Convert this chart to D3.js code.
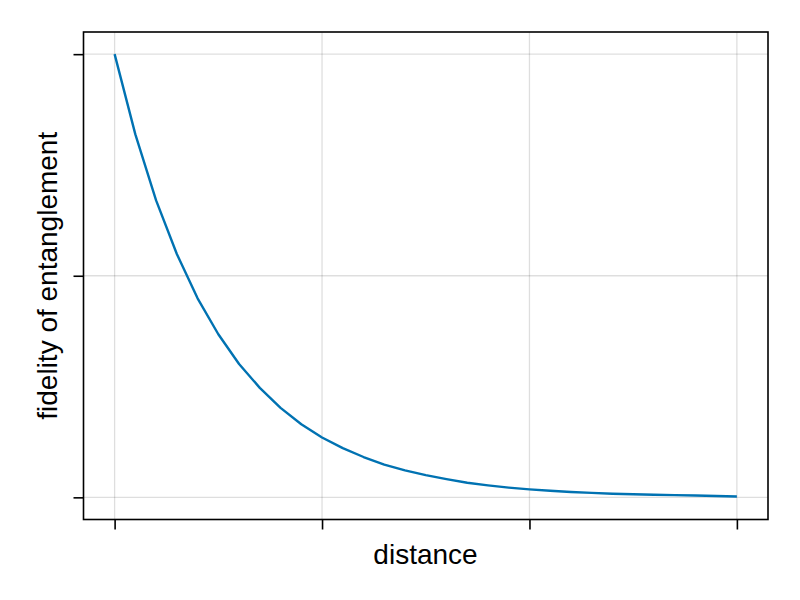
<!DOCTYPE html>
<html>
<head>
<meta charset="utf-8">
<script src="https://cdn.jsdelivr.net/npm/d3@7"></script>
<style>
  html, body { margin: 0; padding: 0; background: #fff; }
  svg { display: block; }
</style>
</head>
<body>
<svg id="chart" width="800" height="600"></svg>
<script>
// Data
const distance = [0.0, 0.1, 0.2, 0.3, 0.4, 0.5, 0.6, 0.7, 0.8, 0.9, 1.0,
                  1.1, 1.2, 1.3, 1.4, 1.5, 1.6, 1.7, 1.8, 1.9, 2.0,
                  2.1, 2.2, 2.3, 2.4, 2.5, 2.6, 2.7, 2.8, 2.9, 3.0];
const fidelity = [1.000, 0.819, 0.670, 0.549, 0.449, 0.368, 0.301, 0.247, 0.202, 0.165, 0.135,
                  0.111, 0.091, 0.074, 0.061, 0.050, 0.041, 0.033, 0.027, 0.022, 0.018,
                  0.015, 0.012, 0.010, 0.008, 0.007, 0.006, 0.005, 0.004, 0.003, 0.002];
const xTicks = [0, 1, 2, 3];
const yTicks = [0, 0.5, 1];
const xLabel = "distance";
const yLabel = "fidelity of entanglement";

const svg = d3.select("#chart");
const L = 83.5, R = 768, T = 32, B = 519.5;

const xPad = 0.05 * 3, yPad = 0.05 * 1;
const x = d3.scaleLinear().domain([0 - xPad, 3 + xPad]).range([L, R]);
const y = d3.scaleLinear().domain([0 - yPad, 1 + yPad]).range([B, T]);

// grid
const grid = svg.append("g");
grid.selectAll("line.gx").data(xTicks).join("line")
  .attr("x1", d => x(d)).attr("x2", d => x(d))
  .attr("y1", T).attr("y2", B)
  .attr("stroke", "rgba(0,0,0,0.13)").attr("stroke-width", 1.3);
grid.selectAll("line.gy").data(yTicks).join("line")
  .attr("y1", d => y(d)).attr("y2", d => y(d))
  .attr("x1", L).attr("x2", R)
  .attr("stroke", "rgba(0,0,0,0.13)").attr("stroke-width", 1.3);

// line
const line = d3.line().x((d, i) => x(distance[i])).y(d => y(d));
svg.append("path").datum(fidelity)
  .attr("d", line)
  .attr("fill", "none")
  .attr("stroke", "#0072B2")
  .attr("stroke-width", 2.4)
  .attr("stroke-linejoin", "round");

// frame
svg.append("rect").attr("x", L).attr("y", T).attr("width", R - L).attr("height", B - T)
  .attr("fill", "none").attr("stroke", "#000").attr("stroke-width", 1.6);

// axes (ticks, no labels)
const xAxis = d3.axisBottom(x).tickValues(xTicks).tickSize(10).tickFormat("");
const yAxis = d3.axisLeft(y).tickValues(yTicks).tickSize(10).tickFormat("");
const gx = svg.append("g").attr("transform", `translate(0,${B})`).call(xAxis);
const gy = svg.append("g").attr("transform", `translate(${L},0)`).call(yAxis);
[gx, gy].forEach(g => {
  g.select(".domain").remove();
  g.selectAll(".tick line").attr("stroke", "#000").attr("stroke-width", 1.6);
});

// labels
svg.append("text")
  .attr("x", 425.5).attr("y", 564)
  .attr("text-anchor", "middle")
  .attr("font-family", "'Liberation Sans', Arial, sans-serif")
  .attr("font-size", 28)
  .attr("fill", "#000")
  .text(xLabel);
svg.append("text")
  .attr("transform", `translate(57,${(T + B) / 2}) rotate(-90)`)
  .attr("text-anchor", "middle")
  .attr("font-family", "'Liberation Sans', Arial, sans-serif")
  .attr("font-size", 28)
  .attr("fill", "#000")
  .text(yLabel);
</script>
</body>
</html>
